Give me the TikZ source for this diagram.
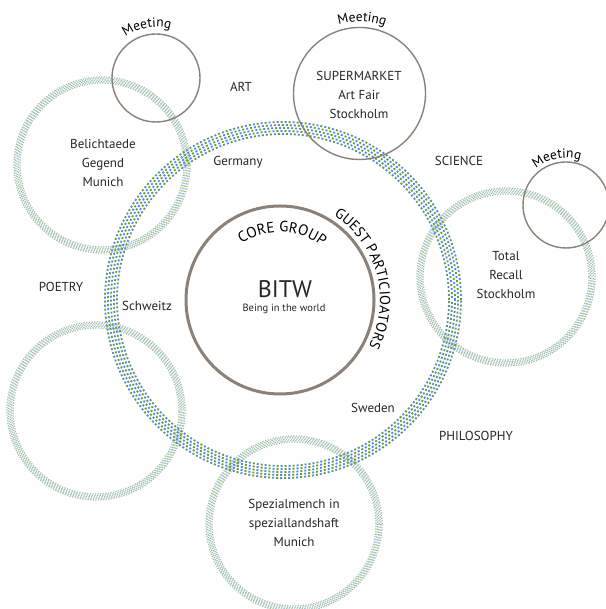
\documentclass[tikz,border=0pt]{standalone}
\usepackage{fontspec}
\setmainfont{PT Sans}
\usetikzlibrary{decorations.text}
\definecolor{dg}{HTML}{6E9A35}
\definecolor{db}{HTML}{4C8CEB}
\definecolor{pg}{HTML}{A9C46E}
\definecolor{pb}{HTML}{98BCF2}
\definecolor{ringc}{HTML}{8C8178}
\tikzset{
  lbl/.style={font=\fontsize{13}{19}\selectfont, text=black!85, align=center, inner sep=0pt},
  meet/.style={draw=ringc, line width=1.4pt},
  corec/.style={draw=ringc, line width=3pt},
}
\newcommand\bigdots[3]{%
  \foreach \i in {0,...,4}{%
    \pgfmathsetmacro\rr{#3-6+3*\i}%
    \pgfmathsetmacro\ph{2*\i}%
    \pgfmathsetmacro\phb{2*\i+4}%
    \draw[dg, line width=1.8pt, dash pattern=on 2pt off 6pt, dash phase=\ph pt] (#1,#2) circle[radius=\rr pt];
    \draw[db, line width=1.8pt, dash pattern=on 2pt off 6pt, dash phase=\phb pt] (#1,#2) circle[radius=\rr pt];
  }}
\newcommand\smalldots[3]{%
  \foreach \i in {0,...,4}{%
    \pgfmathsetmacro\rr{#3-3+1.5*\i}%
    \pgfmathsetmacro\ph{1.3*\i}%
    \pgfmathsetmacro\phb{1.3*\i+2.6}%
    \draw[pg, line width=1.2pt, dash pattern=on 1.3pt off 3.9pt, dash phase=\ph pt] (#1,#2) circle[radius=\rr pt];
    \draw[pb, line width=1.2pt, dash pattern=on 1.3pt off 3.9pt, dash phase=\phb pt] (#1,#2) circle[radius=\rr pt];
  }}
\begin{document}
\begin{tikzpicture}[x=1pt,y=1pt]
\useasboundingbox (0,0) rectangle (605,609);
\fill[white] (0,0) rectangle (605,609);
% outer dotted rings
\smalldots{102}{444}{85}
\smalldots{506}{332}{86}
\smalldots{96}{198}{86}
\smalldots{294}{85}{85}
% big ring
\bigdots{283}{309}{172}
% meeting circles
\draw[meet] (156,531) circle[radius=44pt];
\draw[meet] (359.5,515.5) circle[radius=66pt];
\draw[meet] (566,404) circle[radius=43pt];
% core circle
\draw[corec] (280,309) circle[radius=94pt];
% curved labels
\path[decorate, decoration={text along path, text align=center, text={|\fontsize{13.5}{13.5}\selectfont|Meeting}}]
  (156,531) ++(130:51) arc[start angle=130, end angle=70, radius=51];
\path[decorate, decoration={text along path, text align=center, text={|\fontsize{13.5}{13.5}\selectfont|Meeting}}]
  (359.5,515.5) ++(118:72) arc[start angle=118, end angle=58, radius=72];
\path[decorate, decoration={text along path, text align=center, text={|\fontsize{13.5}{13.5}\selectfont|Meeting}}]
  (566,404) ++(131:47) arc[start angle=131, end angle=71, radius=47];
\path[decorate, decoration={text along path, text align=center, text={|\fontsize{15}{15}\selectfont|CORE GROUP}}]
  (280,309) ++(140:68) arc[start angle=140, end angle=36, radius=68];
\path[decorate, decoration={text along path, text align=center, text={|\fontsize{14.5}{14.5}\selectfont|GUEST PARTICIOATORS}}]
  (280,309) ++(100:100) arc[start angle=100, end angle=-70, radius=100];
% labels
\node[lbl] (art) at (241,522) {ART};
\node[lbl] (germany) at (238,447) {Germany};
\node[lbl] (super) at (359,514) {SUPERMARKET\\Art Fair\\Stockholm};
\node[lbl] (science) at (459,448) {SCIENCE};
\node[lbl] (beli) at (103,446) {Belichtaede\\Gegend\\Munich};
\node[lbl] (poetry) at (61,322) {POETRY};
\node[lbl] (schweitz) at (147,303) {Schweitz};
\node[lbl, font=\fontsize{24}{24}\selectfont] (bitw) at (285,320) {BITW};
\node[lbl, font=\fontsize{10.5}{12}\selectfont] (being) at (284,300) {Being in the world};
\node[lbl] (sweden) at (373,201) {Sweden};
\node[lbl] (total) at (506,334) {Total\\Recall\\Stockholm};
\node[lbl] (philo) at (476,173) {PHILOSOPHY};
\node[lbl] (spez) at (294,86) {Spezialmench in\\speziallandshaft\\Munich};
\end{tikzpicture}
\end{document}
